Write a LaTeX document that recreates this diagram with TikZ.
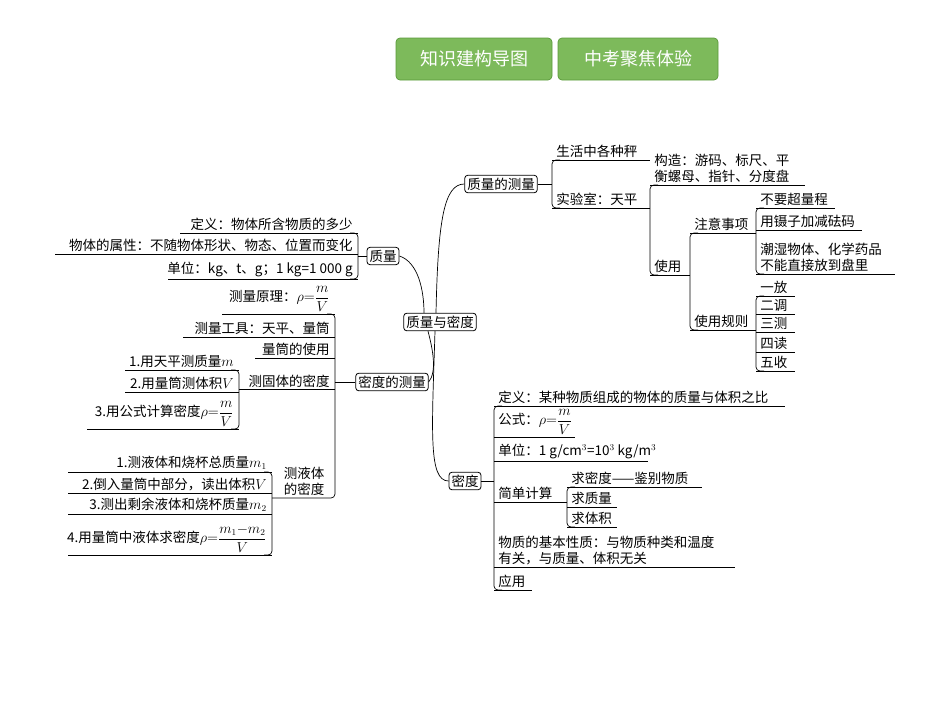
\documentclass[tikz,border=0pt]{standalone}
\usepackage{amsmath}
\usepackage{fontspec}
\setmainfont{Noto Sans CJK SC}
\definecolor{btn_green}{HTML}{7DBA5B}
\definecolor{btn_edge}{HTML}{5A9A3A}
\tikzset{
  leaf/.style={inner sep=1pt, font=\fontsize{13.5}{16}\selectfont, align=left},
  topic/.style={draw, rounded corners=3pt, inner sep=2.5pt, line width=0.8pt, font=\fontsize{13.5}{16}\selectfont},
  button/.style={draw=btn_edge, fill=btn_green, rounded corners=4pt, minimum width=156, minimum height=42, text=white, font=\fontsize{18}{21}\selectfont}
}
% leaf on the right of its bracket: name, x1, x2, y of underline, text
\newcommand\rleaf[5]{\draw (#2,#4) -- (#3,#4);
  \node[leaf, anchor=south west] (#1) at (#2+3,#4-1) {#5};}
% leaf on the left of its bracket
\newcommand\lleaf[5]{\draw (#2,#4) -- (#3,#4);
  \node[leaf, anchor=south east] (#1) at (#3-4,#4-1) {#5};}
% bracket: x, top y, bottom y
\newcommand\rbrk[3]{\draw[rounded corners=4pt] (#1+8,#2) -- (#1,#2) -- (#1,#3) -- (#1+8,#3);}
\newcommand\lbrk[3]{\draw[rounded corners=4pt] (#1-8,#2) -- (#1,#2) -- (#1,#3) -- (#1-8,#3);}

\begin{document}
\begin{tikzpicture}[x=1pt,y=-1pt,line width=0.7pt]
  \useasboundingbox (0,0) rectangle (950,713);

  % boutons
  \node[button] (bmap) at (474,59) {知识建构导图};
  \node[button, minimum width=160] (bexam) at (638,59) {中考聚焦体验};

  % noeuds principaux
  \node[topic] (root) at (440,322) {质量与密度};
  \node[topic] (mass) at (383,256) {质量};
  \node[topic] (dmeas) at (392,382) {密度的测量};
  \node[topic] (mmeas) at (501,184) {质量的测量};
  \node[topic] (dens) at (465,481) {密度};

  \draw (root.north) ++(-4,0) .. controls (438,220) and (444,184) .. (mmeas.west);
  \draw (mass.east) .. controls (418,262) and (424,290) .. ([xshift=-16]root.north);
  \draw ([xshift=-12]root.south) .. controls (433,350) and (437,372) .. (dmeas.east);
  \draw ([xshift=-5]root.south) .. controls (432,430) and (428,481) .. (dens.west);

  %质量
  \lleaf{mdef}{180}{358}{233}{定义：物体所含物质的多少}
  \lleaf{mprop}{55}{358}{254}{物体的属性：不随物体形状、物态、位置而变化}
  \lleaf{munit}{168}{358}{279}{单位：kg、t、g；1 kg=1 000 g}
  \lbrk{358}{233}{279}
  \draw (mass.west) -- (358,256);

  % 密度的测量
  \lleaf{prin}{222}{335}{314}{测量原理：$\rho{=}\dfrac{m}{V}$}
  \lleaf{tool}{183}{335}{337}{测量工具：天平、量筒}
  \lleaf{cyl}{255}{335}{358}{量筒的使用}
  \node[leaf, anchor=south east] (solid) at (331,389) {测固体的密度};
  \node[leaf] (liquid) at (304,481) {测液体\\的密度};
  \draw[rounded corners=4pt] (327,314) -- (335,314) -- (335,498) -- (272,498);
  \draw (dmeas.west) -- (335,382);
  \draw (239,389) -- (335,389);
  \lleaf{s1}{125}{239}{370}{1.用天平测质量$m$}
  \lleaf{s2}{125}{239}{392}{2.用量筒测体积$V$}
  \lleaf{s3}{87}{239}{429}{3.用公式计算密度$\rho{=}\dfrac{m}{V}$}
  \lbrk{239}{370}{429}
  \lleaf{l1}{68}{272}{472}{1.测液体和烧杯总质量$m_1$}
  \lleaf{l2}{68}{272}{493}{2.倒入量筒中部分，读出体积$V$}
  \lleaf{l3}{68}{272}{514}{3.测出剩余液体和烧杯质量$m_2$}
  \lleaf{l4}{68}{272}{555}{4.用量筒中液体求密度$\rho{=}\dfrac{m_1{-}m_2}{V}$}
  \lbrk{272}{472}{555}

  % 质量的测量
  \rleaf{life}{552}{650}{160}{生活中各种秤}
  \rleaf{lab}{552}{650}{208}{实验室：天平}
  \rbrk{552}{160}{208}
  \draw (mmeas.east) -- (552,184);
  \rleaf{struct}{650}{805}{185}{构造：游码、标尺、平\\衡螺母、指针、分度盘}
  \rleaf{use}{650}{690}{275}{使用}
  \rbrk{650}{185}{275}
  \rleaf{note}{690}{756}{233}{注意事项}
  \rleaf{rule}{690}{756}{330}{使用规则}
  \rbrk{690}{233}{330}
  \rleaf{n1}{756}{835}{208}{不要超量程}
  \rleaf{n2}{756}{862}{230}{用镊子加减砝码}
  \rleaf{n3}{756}{895}{274}{潮湿物体、化学药品\\不能直接放到盘里}
  \rbrk{756}{208}{274}
  \rleaf{r1}{756}{795}{296}{一放}
  \rleaf{r2}{756}{795}{314}{二调}
  \rleaf{r3}{756}{795}{332}{三测}
  \rleaf{r4}{756}{795}{352}{四读}
  \rleaf{r5}{756}{795}{371}{五收}
  \rbrk{756}{296}{371}

  % 密度
  \rleaf{ddef}{494}{785}{406}{定义：某种物质组成的物体的质量与体积之比}
  \rleaf{dform}{494}{575}{437}{公式：$\rho{=}\dfrac{m}{V}$}
  \rleaf{dunit}{494}{648}{461}{单位：1 g/cm$^3$=10$^3$ kg/m$^3$}
  \rleaf{calc}{494}{567}{502}{简单计算}
  \rleaf{c1}{567}{702}{487}{求密度——鉴别物质}
  \rleaf{c2}{567}{617}{507}{求质量}
  \rleaf{c3}{567}{617}{527}{求体积}
  \rbrk{567}{487}{527}
  \rleaf{prop}{494}{735}{567}{物质的基本性质：与物质种类和温度\\有关，与质量、体积无关}
  \rleaf{app}{494}{532}{590}{应用}
  \rbrk{494}{406}{590}
  \draw (dens.east) -- (494,481);
\end{tikzpicture}
\end{document}
